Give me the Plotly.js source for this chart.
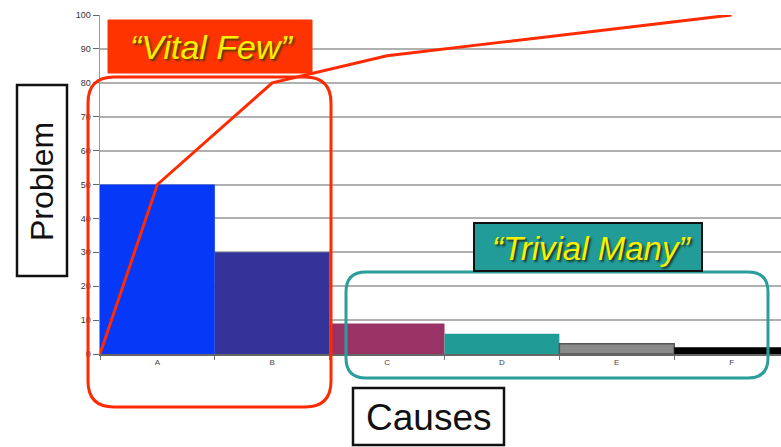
<!DOCTYPE html>
<html>
<head>
<meta charset="utf-8">
<script src="https://cdn.plot.ly/plotly-3.0.1.min.js"></script>
<style>html,body{margin:0;padding:0;background:#fff;}#chart{width:781px;height:447px;}</style>
</head>
<body>
<div id="chart"></div>
<script>
// ---- data ----
const causes = ['A', 'B', 'C', 'D', 'E', 'F'];
const problems = [50, 30, 9, 6, 3, 2];
const cumulative = [0, 50, 80, 88, 92, 96, 100];
const barColors = ['#0638F8', '#333399', '#993366', '#209B96', '#8A8A8A', '#000000'];
const yTicks = [0, 10, 20, 30, 40, 50, 60, 70, 80, 90, 100];

// ---- layout helpers (pixel -> paper) ----
const W = 781, H = 447;
const M = {l: 100, r: 0, t: 15, b: 93};
const PW = W - M.l - M.r, PH = H - M.t - M.b;
const px = x => (x - M.l) / PW;
const py = y => (H - M.b - y) / PH;

function roundRect(x0, y0, x1, y1, r) {
  const X = v => px(v).toFixed(5), Y = v => py(v).toFixed(5);
  return 'M' + X(x0 + r) + ',' + Y(y0) +
    ' L' + X(x1 - r) + ',' + Y(y0) +
    ' Q' + X(x1) + ',' + Y(y0) + ' ' + X(x1) + ',' + Y(y0 + r) +
    ' L' + X(x1) + ',' + Y(y1 - r) +
    ' Q' + X(x1) + ',' + Y(y1) + ' ' + X(x1 - r) + ',' + Y(y1) +
    ' L' + X(x0 + r) + ',' + Y(y1) +
    ' Q' + X(x0) + ',' + Y(y1) + ' ' + X(x0) + ',' + Y(y1 - r) +
    ' L' + X(x0) + ',' + Y(y0 + r) +
    ' Q' + X(x0) + ',' + Y(y0) + ' ' + X(x0 + r) + ',' + Y(y0) + ' Z';
}
function rect(x0, y0, x1, y1, fill, lineColor, lw) {
  return {type: 'rect', xref: 'paper', yref: 'paper',
    x0: px(x0), x1: px(x1), y0: py(y1), y1: py(y0),
    fillcolor: fill, line: {color: lineColor, width: lw}, layer: 'above'};
}

const idx = causes.map((c, i) => i);
const lineX = [-0.5].concat(idx);

const traces = [
  {
    type: 'bar', x: idx, y: problems, width: 1,
    marker: {color: barColors,
      line: {color: ['#0638F8', '#333399', '#993366', '#209B96', '#555555', '#000000'],
             width: [0, 0, 0, 0, 1.5, 0]}},
    hoverinfo: 'skip', showlegend: false
  },
  {
    type: 'scatter', mode: 'lines', x: lineX, y: cumulative,
    line: {color: '#FF2A00', width: 3},
    hoverinfo: 'skip', showlegend: false
  }
];

const layout = {
  width: W, height: H,
  margin: M,
  paper_bgcolor: '#ffffff', plot_bgcolor: '#ffffff',
  font: {family: '"Liberation Sans", Arial, sans-serif', color: '#333'},
  bargap: 0,
  xaxis: {
    range: [-0.5, 5.43],
    tickvals: idx, ticktext: causes,
    ticks: '', showgrid: false, zeroline: false,
    showline: true, linecolor: '#666', linewidth: 1.5,
    tickfont: {size: 8, color: '#444'},
    minor: {tick0: 0.5, dtick: 1, ticks: 'outside', ticklen: 4, tickcolor: '#777', showgrid: false}
  },
  yaxis: {
    range: [0, 100], tickvals: yTicks,
    ticks: 'outside', ticklen: 6, tickcolor: '#666', tickwidth: 1,
    showgrid: true, gridcolor: '#B0B0B0', gridwidth: 2,
    zeroline: false, showline: true, linecolor: '#999', linewidth: 1.5,
    tickfont: {size: 9, color: '#333'}
  },
  shapes: [
    {type: 'path', xref: 'paper', yref: 'paper', path: roundRect(88, 77, 331, 407, 26),
      line: {color: '#FF2A00', width: 3}, layer: 'above'},
    {type: 'path', xref: 'paper', yref: 'paper', path: roundRect(346, 272, 768, 378, 20),
      line: {color: '#2A9E9A', width: 3}, layer: 'above'},
    rect(108, 20, 312, 73, '#FF3300', '#FF3300', 1),
    rect(474, 223, 702, 271, '#219C98', '#111111', 2),
    rect(17, 85, 67, 276, '#ffffff', '#111111', 2.5),
    rect(353, 388, 504, 445, '#ffffff', '#111111', 2.5)
  ],
  annotations: [
    {xref: 'paper', yref: 'paper', x: px(212), y: py(47), xanchor: 'center', yanchor: 'middle',
      text: '\u201cVital Few\u201d', showarrow: false,
      font: {size: 34, color: '#F8F000', style: 'italic', shadow: '2px 2px 2px #5a3a00'}},
    {xref: 'paper', yref: 'paper', x: px(591), y: py(248), xanchor: 'center', yanchor: 'middle',
      text: '\u201cTrivial Many\u201d', showarrow: false,
      font: {size: 33, color: '#F8F000', style: 'italic', shadow: '2px 2px 2px #1a3a30'}},
    {xref: 'paper', yref: 'paper', x: px(42), y: py(182), xanchor: 'center', yanchor: 'middle',
      text: 'Problem', textangle: -90, showarrow: false,
      font: {size: 32, color: '#111'}},
    {xref: 'paper', yref: 'paper', x: px(428), y: py(417), xanchor: 'center', yanchor: 'middle',
      text: 'Causes', showarrow: false,
      font: {size: 37, color: '#111'}}
  ]
};

Plotly.newPlot('chart', traces, layout, {staticPlot: true, displayModeBar: false});
</script>
</body>
</html>
